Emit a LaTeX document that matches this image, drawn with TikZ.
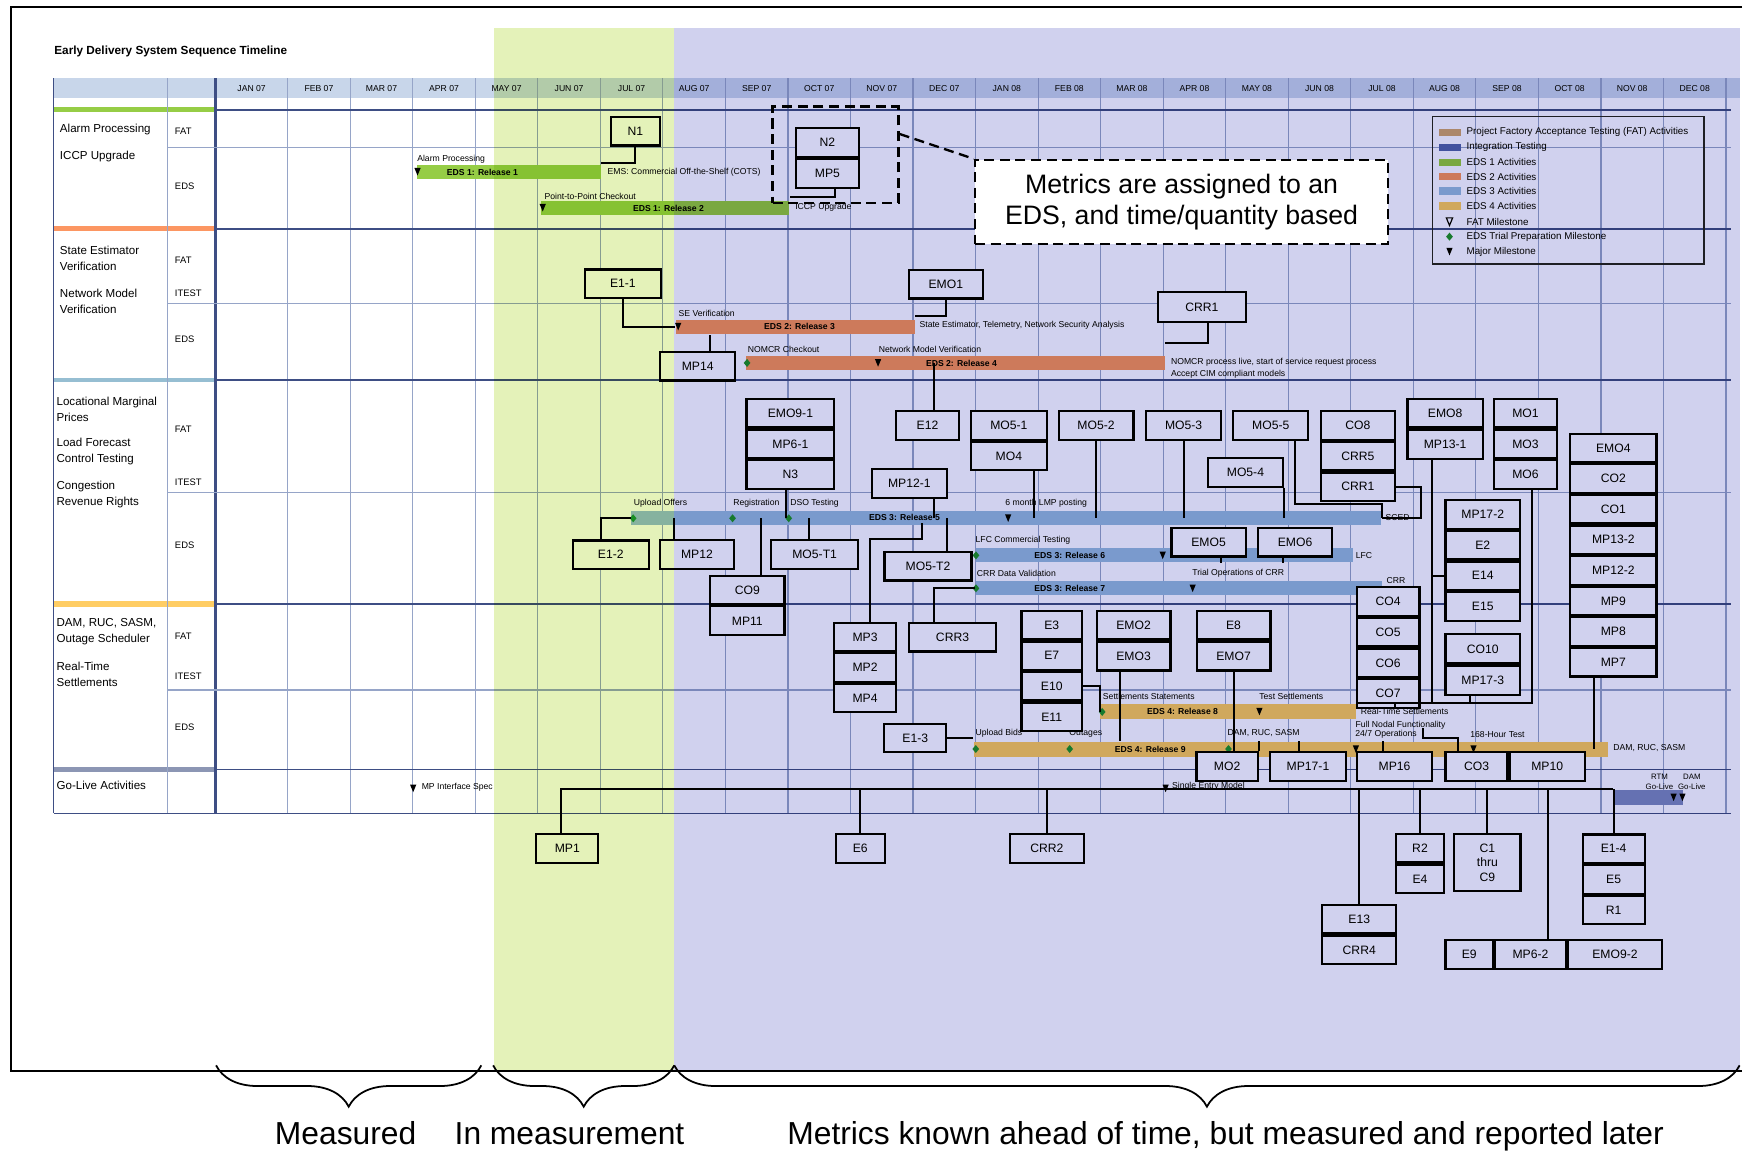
\documentclass[tikz,border=0pt]{standalone}
\usepackage{fontspec}
\setmainfont{Liberation Sans}
\usetikzlibrary{positioning,decorations.pathreplacing}

\definecolor{edsone}{RGB}{150,205,70}
\definecolor{edstwo}{RGB}{252,150,98}
\definecolor{edsthree}{RGB}{150,188,220}
\definecolor{edsfour}{RGB}{255,205,100}
\definecolor{integ}{RGB}{80,100,170}
\definecolor{fattan}{RGB}{210,165,115}
\definecolor{trialgreen}{RGB}{30,150,50}
\definecolor{gridthin}{RGB}{150,165,200}
\definecolor{griddark}{RGB}{62,78,132}
\definecolor{headband}{RGB}{200,214,234}
\definecolor{secblue}{RGB}{150,190,210}
\definecolor{secgray}{RGB}{140,150,180}
\definecolor{hatchgreen}{RGB}{228,242,185}
\definecolor{hatchblue}{RGB}{208,209,238}

\newcommand{\edsTitleFont}{\fontsize{3}{3.6}\selectfont\bfseries}
\newcommand{\edsMonthFont}{\fontsize{2.2}{2.6}\selectfont}
\newcommand{\edsRowFont}{\fontsize{2.95}{4.1}\selectfont}
\newcommand{\edsSubFont}{\fontsize{2.4}{2.8}\selectfont}
\newcommand{\edsNoteFont}{\fontsize{2.2}{2.6}\selectfont}
\newcommand{\edsLegFont}{\fontsize{2.5}{3}\selectfont}
\newcommand{\edsBoxFont}{\fontsize{3.1}{3.75}\selectfont}
\newcommand{\edsCallFont}{\fontsize{6.8}{7.97}\selectfont}
\newcommand{\edsBigFont}{\fontsize{8.1}{9.5}\selectfont}

\begin{document}
\begin{tikzpicture}[x=0.1mm,y=-0.1mm,
  metric/.style={draw,line width=.55pt,fill=white,inner sep=0pt,minimum height=2.55mm,font=\edsBoxFont},
  bar/.style={inner sep=0pt,minimum height=1.25mm,anchor=west},
  barnote/.style={inner sep=0pt,anchor=west,font=\edsNoteFont},
  barname/.style={inner sep=0pt,font=\edsNoteFont\bfseries},
  link/.style={line width=.5pt},
  rowname/.style={inner sep=0pt,anchor=west,align=left,font=\edsRowFont},
  subrow/.style={inner sep=0pt,anchor=west,font=\edsSubFont},
  gridlite/.style={draw=gridthin,line width=.3pt},
  griddeep/.style={draw=griddark,line width=.45pt},
  dashbox/.style={draw,dash pattern=on .9mm off .5mm,line width=.6pt,inner sep=0pt},
  majmile/.pic={\fill (-2.8,-3.4) -- (2.8,-3.4) -- (0,3.4) -- cycle;},
  trialmile/.pic={\fill[trialgreen] (0,-3.6) -- (3,0) -- (0,3.6) -- (-3,0) -- cycle;},
  fatmile/.pic={\draw[line width=.3pt] (-2.8,-3.4) -- (2.8,-3.4) -- (0,3.4) -- cycle;}]
\useasboundingbox (0,0) rectangle (1568,1031);
\fill[white] (0,0) rectangle (1568,1031);

% frame
\draw[line width=.5pt] (1560,6) -- (10,6) -- (10,959) -- (1560,959);
\node[inner sep=0pt,anchor=west,font=\edsTitleFont] (title) at (48,46.3) {Early Delivery System Sequence Timeline};

% table
\fill[headband] (48,70) rectangle (1558,88);
\fill[edsone] (48,95.5) rectangle (193,100);
\fill[edstwo] (48,202) rectangle (193,207);
\fill[secblue] (48,338.5) rectangle (193,342.5);
\fill[edsfour] (48,538) rectangle (193,543.3);
\fill[secgray] (48,686.6) rectangle (193,691);
\foreach \i in {0,...,23}
  \draw[gridlite] (257.6+56*\i,70) -- (257.6+56*\i,728.4);
\draw[gridlite] (150,70) -- (150,728.4);
\draw[griddeep] (48,70) -- (48,728.4);
\draw[griddeep,line width=.7pt] (193,70) -- (193,728.4);
\foreach \yy in {98.5,205,340.5,541,689}
  \draw[griddeep] (193,\yy) -- (1550,\yy);
\foreach \yy in {132,272,441.2,618}
  \draw[gridlite,line width=.35pt] (150,\yy) -- (1550,\yy);
\draw[griddeep] (48,728.4) -- (1550,728.4);

\node[inner sep=0pt,font=\edsMonthFont] (mjan) at (225.3,79) {JAN 07};
\foreach \m [count=\i from 0] in {FEB 07,MAR 07,APR 07,MAY 07,JUN 07,JUL 07,AUG 07,SEP 07,OCT 07,NOV 07,DEC 07,JAN 08,FEB 08,MAR 08,APR 08,MAY 08,JUN 08,JUL 08,AUG 08,SEP 08,OCT 08,NOV 08,DEC 08}
  \node[inner sep=0pt,font=\edsMonthFont] (mon\i) at (285.6+56*\i,79) {\m};

\node[rowname] (alarm) at (53,116.4) {Alarm Processing};
\node[rowname] (iccp) at (53,140.3) {ICCP Upgrade};
\node[rowname] (sev) at (53,231.4) {State Estimator\\Verification};
\node[rowname] (nmv) at (53,269.9) {Network Model\\Verification};
\node[rowname] (lmp) at (50,366.4) {Locational Marginal\\Prices};
\node[rowname] (lfc) at (50,404.5) {Load Forecast\\Control Testing};
\node[rowname] (crr) at (50,442.9) {Congestion\\Revenue Rights};
\node[rowname] (dam) at (50,565.8) {DAM, RUC, SASM,\\Outage Scheduler};
\node[rowname] (rts) at (50,603.7) {Real-Time\\Settlements};
\node[rowname] (golv) at (50,703.6) {Go-Live Activities};
\foreach \yy/\lbl [count=\i] in {117.3/FAT,167/EDS,232.8/FAT,262.7/ITEST,303.9/EDS,384/FAT,432/ITEST,488/EDS,569.5/FAT,606/ITEST,651.6/EDS}
  \node[subrow] (sub\i) at (156,\yy) {\lbl};

% releases
\node[bar,fill=edsone,minimum width=16.49mm] (rel1) at (372.3,154.2) {};
\node[bar,fill=edsone,minimum width=22.24mm] (rel2) at (483.8,186.2) {};
\node[bar,fill=edstwo,minimum width=21.36mm] (rel3) at (604.7,292.6) {};
\node[bar,fill=edstwo,minimum width=37.46mm] (rel4) at (667.5,325) {};
\node[bar,fill=edsthree,minimum width=67.13mm] (rel5) at (564.7,463.7) {};
\node[bar,fill=edsthree,minimum width=33.8mm] (rel6) at (873,497.3) {};
\node[bar,fill=edsthree,minimum width=36.43mm] (rel7) at (873,526.8) {};
\node[bar,fill=edsfour,minimum width=22.87mm,minimum height=1.37mm] (rel8) at (984.6,637.2) {};
\node[bar,fill=edsfour,minimum width=56.81mm,minimum height=1.35mm] (rel9) at (871.5,670.8) {};
\node[bar,fill=integ!75,minimum width=6.26mm,minimum height=1.33mm] (golive) at (1444,714) {};

\node[barname] (r1name) at (432,154.2) {EDS 1: Release 1};
\node[barname] (r2name) at (598.6,186.2) {EDS 1: Release 2};
\node[barname] (r3name) at (716,292.6) {EDS 2: Release 3};
\node[barname] (r4name) at (861,325) {EDS 2: Release 4};
\node[barname] (r5name) at (810,463.7) {EDS 3: Release 5};
\node[barname] (r6name) at (958,497.3) {EDS 3: Release 6};
\node[barname] (r7name) at (958,526.8) {EDS 3: Release 7};
\node[barname] (r8name) at (1059,637.2) {EDS 4: Release 8};
\node[barname] (r9name) at (1030,670.8) {EDS 4: Release 9};

\node[barnote] (nt1) at (373,143) {Alarm Processing};
\node[barnote] (nt2) at (543.5,154) {EMS: Commercial Off-the-Shelf (COTS)};
\node[barnote] (nt3) at (487,175.5) {Point-to-Point Checkout};
\node[barnote] (nt4) at (711.5,185.5) {ICCP Upgrade};
\node[barnote] (nt5) at (607,280.5) {SE Verification};
\node[barnote] (nt6) at (822.8,291.5) {State Estimator, Telemetry, Network Security Analysis};
\node[barnote] (nt7) at (669,313) {NOMCR Checkout};
\node[barnote] (nt8) at (786.3,313) {Network Model Verification};
\node[barnote] (nt9) at (1048,324) {NOMCR process live, start of service request process};
\node[barnote] (nt10) at (1048,335) {Accept CIM compliant models};
\node[barnote] (nt11) at (567,450.5) {Upload Offers};
\node[barnote] (nt12) at (656,450.5) {Registration};
\node[barnote] (nt13) at (707,450.5) {DSO Testing};
\node[barnote] (nt14) at (899.6,450.5) {6 month LMP posting};
\node[barnote] (nt15) at (1240,463.5) {SCED};
\node[barnote] (nt16) at (873,483.5) {LFC Commercial Testing};
\node[barnote] (nt17) at (1213.5,497) {LFC};
\node[barnote] (nt18) at (874,513.5) {CRR Data Validation};
\node[barnote] (nt19) at (1067,513.5) {Trial Operations of CRR};
\node[barnote] (nt20) at (1241,520) {CRR};
\node[barnote] (nt21) at (987,624) {Settlements Statements};
\node[barnote] (nt22) at (1127,624) {Test Settlements};
\node[barnote] (nt23) at (1218,637) {Real-Time Settlements};
\node[barnote] (nt24) at (873,656.7) {Upload Bids};
\node[barnote] (nt25) at (957,656.7) {Outages};
\node[barnote] (nt26) at (1098.7,656.7) {DAM, RUC, SASM};
\node[barnote] (nt27) at (1213.3,649) {Full Nodal Functionality};
\node[barnote] (nt28) at (1213,657.5) {24/7 Operations};
\node[barnote] (nt29) at (1316,658) {168-Hour Test};
\node[barnote] (nt30) at (1444,669.5) {DAM, RUC, SASM};
\node[barnote] (nt31) at (377,705) {MP Interface Spec};
\node[barnote] (nt32) at (1049,704) {Single Entry Model};
\node[inner sep=0pt,align=center,font=\fontsize{2}{2.6}\selectfont] (rtm) at (1486,700) {RTM\\Go-Live};
\node[inner sep=0pt,align=center,font=\fontsize{2}{2.6}\selectfont] (damgl) at (1515,700) {DAM\\Go-Live};

% milestones
\pic at (373.9,153.8) {majmile};
\pic at (486,186) {majmile};
\pic at (607.3,292.5) {majmile};
\pic at (786.3,325) {majmile};
\pic at (902.8,464) {majmile};
\pic at (1041.2,497.3) {majmile};
\pic at (1068,526.8) {majmile};
\pic at (1127.8,637.2) {majmile};
\pic at (1214.2,670.8) {majmile};
\pic at (1319.5,670.8) {majmile};
\pic at (370,706) {majmile};
\pic at (1043.8,706) {majmile};
\pic at (1498.7,714) {majmile};
\pic at (1506.6,714) {majmile};
\foreach \xx/\yy in {669/325,567/464.1,656/464.1,706.3/464.1,874/497.3,874/526.8,987/637.5,873.8/670.7,957.9/670.7,1100.1/670.7}
  \pic at (\xx,\yy) {trialmile};

% legend
\node[draw=black!85,line width=.4pt,minimum width=24.31mm,minimum height=13.2mm,inner sep=0pt] (legend) at (1404.4,170.4) {};
\foreach \yy/\cc in {118.5/fattan,131.9/integ,145.3/edsone,158.2/edstwo,171/edsthree,184.4/edsfour}
  \fill[\cc] (1288.4,\yy-3.3) rectangle (1308,\yy+3.3);
\pic at (1298,198.5) {fatmile};
\pic at (1298,211.9) {trialmile};
\pic at (1298,225.3) {majmile};
\foreach \yy/\lbl [count=\i] in {118.5/Project Factory Acceptance Testing (FAT) Activities,131.9/Integration Testing,145.3/EDS 1 Activities,158.2/EDS 2 Activities,171/EDS 3 Activities,184.4/EDS 4 Activities,198.5/FAT Milestone,211.9/EDS Trial Preparation Milestone,225.3/Major Milestone}
  \node[barnote,font=\edsLegFont] (leg\i) at (1312.6,\yy) {\lbl};

% metric boxes
\node[metric,minimum width=4.4mm] (n1) at (569,117.5) {N1};
\node[metric,minimum width=5.7mm,minimum height=2.6mm] (n2) at (741,127.5) {N2};
\node[metric,minimum width=5.7mm,minimum height=2.6mm,below=0pt of n2] (mp5) {MP5};
\node[metric,minimum width=6.75mm] (e1x1) at (557.8,254) {E1-1};
\node[metric,minimum width=6.6mm] (emo1) at (847,254.5) {EMO1};
\node[metric,minimum width=7.86mm,minimum height=2.68mm] (crr1a) at (1076.3,275.2) {CRR1};
\node[metric,minimum width=6.7mm] (mp14) at (624.8,328) {MP14};
\node[metric,minimum width=5.6mm] (e12) at (830.6,381) {E12};
\node[metric,minimum width=7.87mm] (emo9x1) at (707.8,370) {EMO9-1};
\node[metric,minimum width=7.87mm,below=0pt of emo9x1] (mp6x1) {MP6-1};
\node[metric,minimum width=7.87mm,below=0pt of mp6x1] (n3) {N3};
\node[metric,minimum width=6.8mm] (mo5x1) at (903.4,381) {MO5-1};
\node[metric,minimum width=6.8mm,below=0pt of mo5x1] (mo4) {MO4};
\node[metric,minimum width=6.7mm] (mo5x2) at (981.5,381) {MO5-2};
\node[metric,minimum width=6.7mm] (mo5x3) at (1059.9,381) {MO5-3};
\node[metric,minimum width=6.7mm] (mo5x5) at (1138,381) {MO5-5};
\node[metric,minimum width=6.6mm] (co8) at (1216,381) {CO8};
\node[metric,minimum width=6.6mm,below=0pt of co8] (crr5) {CRR5};
\node[metric,minimum width=6.6mm,below=0pt of crr5] (crr1b) {CRR1};
\node[metric,minimum width=6.74mm] (emo8) at (1294.1,370) {EMO8};
\node[metric,minimum width=6.74mm,minimum height=2.65mm,below=0pt of emo8] (mp13x1) {MP13-1};
\node[metric,minimum width=5.6mm] (mo1) at (1366,370) {MO1};
\node[metric,minimum width=5.6mm,below=0pt of mo1] (mo3) {MO3};
\node[metric,minimum width=5.6mm,below=0pt of mo3] (mo6) {MO6};
\node[metric,minimum width=7.74mm] (emo4) at (1444.7,401) {EMO4};
\node[metric,minimum width=7.74mm,below=0pt of emo4] (co2) {CO2};
\node[metric,minimum width=7.74mm,below=0pt of co2] (co1) {CO1};
\node[metric,minimum width=7.74mm,below=0pt of co1] (mp13x2) {MP13-2};
\node[metric,minimum width=7.74mm,below=0pt of mp13x2] (mp12x2) {MP12-2};
\node[metric,minimum width=7.74mm,below=0pt of mp12x2] (mp9) {MP9};
\node[metric,minimum width=7.74mm,below=0pt of mp9] (mp8) {MP8};
\node[metric,minimum width=7.74mm,below=0pt of mp8] (mp7) {MP7};
\node[metric,minimum width=6.74mm] (mo5x4) at (1115.3,423) {MO5-4};
\node[metric,minimum width=6.74mm] (mp12x1) at (814.3,433) {MP12-1};
\node[metric,minimum width=6.68mm] (mp17x2) at (1327.8,460.7) {MP17-2};
\node[metric,minimum width=6.68mm,below=0pt of mp17x2] (e2) {E2};
\node[metric,minimum width=6.68mm,below=0pt of e2] (e14) {E14};
\node[metric,minimum width=6.68mm,below=0pt of e14] (e15) {E15};
\node[metric,minimum width=6.76mm] (e1x2) at (547,496.7) {E1-2};
\node[metric,minimum width=6.6mm] (mp12) at (624.1,496.5) {MP12};
\node[metric,minimum width=7.8mm] (mo5t1) at (729.5,496.5) {MO5-T1};
\node[metric,minimum width=6.66mm] (emo5) at (1082.3,485.5) {EMO5};
\node[metric,minimum width=6.68mm] (emo6) at (1159.7,485.5) {EMO6};
\node[metric,minimum width=7.8mm] (mo5t2) at (831,507) {MO5-T2};
\node[metric,minimum width=6.67mm] (co9) at (669.2,528.3) {CO9};
\node[metric,minimum width=6.67mm,minimum height=2.6mm,below=0pt of co9] (mp11) {MP11};
\node[metric,minimum width=5.6mm] (co4) at (1243.1,538.7) {CO4};
\node[metric,minimum width=5.6mm,below=0pt of co4] (co5) {CO5};
\node[metric,minimum width=5.6mm,below=0pt of co5] (co6) {CO6};
\node[metric,minimum width=5.6mm,below=0pt of co6] (co7) {CO7};
\node[metric,minimum width=6.68mm,minimum height=2.6mm] (co10) at (1327.8,581) {CO10};
\node[metric,minimum width=6.68mm,minimum height=2.65mm,below=0pt of co10] (mp17x3) {MP17-3};
\node[metric,minimum width=5.6mm] (mp3) at (774.6,570.3) {MP3};
\node[metric,minimum width=5.6mm,below=0pt of mp3] (mp2) {MP2};
\node[metric,minimum width=5.6mm,below=0pt of mp2] (mp4) {MP4};
\node[metric,minimum width=7.8mm] (crr3) at (853,570.6) {CRR3};
\node[metric,minimum width=5.42mm] (e3) at (941.8,559.7) {E3};
\node[metric,minimum width=5.42mm,below=0pt of e3] (e7) {E7};
\node[metric,minimum width=5.42mm,below=0pt of e7] (e10) {E10};
\node[metric,minimum width=5.42mm,below=0pt of e10] (e11) {E11};
\node[metric,minimum width=6.62mm] (emo2) at (1015.1,559.7) {EMO2};
\node[metric,minimum width=6.62mm,minimum height=2.6mm,below=0pt of emo2] (emo3) {EMO3};
\node[metric,minimum width=6.61mm] (e8) at (1104.6,559.7) {E8};
\node[metric,minimum width=6.61mm,minimum height=2.6mm,below=0pt of e8] (emo7) {EMO7};
\node[metric,minimum width=5.53mm] (e1x3) at (819.6,661) {E1-3};
\node[metric,minimum width=5.48mm] (mo2) at (1098.9,686.5) {MO2};
\node[metric,minimum width=6.74mm] (mp17x1) at (1171.3,686.5) {MP17-1};
\node[metric,minimum width=6.74mm] (mp16) at (1248.8,686.5) {MP16};
\node[metric,minimum width=5.56mm] (co3) at (1322.2,686.5) {CO3};
\node[metric,minimum width=6.72mm,right=0pt of co3] (mp10) {MP10};
\node[metric,minimum width=5.57mm,minimum height=2.63mm] (mp1) at (508,760) {MP1};
\node[metric,minimum width=4.4mm,minimum height=2.63mm] (e6) at (770.3,760) {E6};
\node[metric,minimum width=6.65mm,minimum height=2.63mm] (crr2) at (937.5,760) {CRR2};
\node[metric,minimum width=4.25mm] (r2) at (1271.6,759.6) {R2};
\node[metric,minimum width=4.25mm,below=0pt of r2] (e4) {E4};
\node[metric,minimum width=5.94mm,minimum height=5.12mm,align=center] (c1) at (1331.9,772.4) {C1\\thru\\C9};
\node[metric,minimum width=5.56mm] (e1x4) at (1445,760) {E1-4};
\node[metric,minimum width=5.56mm,below=0pt of e1x4] (e5) {E5};
\node[metric,minimum width=5.56mm,below=0pt of e5] (r1) {R1};
\node[metric,minimum width=6.64mm] (e13) at (1217.2,823.1) {E13};
\node[metric,minimum width=6.64mm,below=0pt of e13] (crr4) {CRR4};
\node[metric,minimum width=4.26mm,minimum height=2.6mm] (e9) at (1315.7,854.7) {E9};
\node[metric,minimum width=6.32mm,minimum height=2.6mm,right=0pt of e9] (mp6x2) {MP6-2};
\node[metric,minimum width=8.42mm,minimum height=2.6mm,right=0pt of mp6x2] (emo9x2) {EMO9-2};

% connectors
\draw[link] (n1.south) |- ([yshift=.15mm]rel1.north east);
\draw[link] ([xshift=.66mm]mp5.south) |- ([yshift=.3mm]rel2.north east);
\draw[link] (e1x1.south) |- (rel3.west);
\draw[link] (emo1.south) |- ([yshift=.3mm]rel3.north east);
\draw[link] ([xshift=.57mm]crr1a.south) |- ([yshift=1.05mm]rel4.north east);
\draw[link] ([xshift=1.07mm]mp14.north) coordinate (p) -- (p |- rel3.south);
\draw[link] ([xshift=.59mm]e12.north) coordinate (p) -- (p |- rel4.center);
\draw[link] ([xshift=-.38mm]n3.south) coordinate (p) -- (p |- rel5.center);
\draw[link] ([xshift=2.26mm]mo4.south) coordinate (p) -- (p |- rel5.center);
\draw[link] (mo5x2.south) -- (mo5x2.south |- rel5.center);
\draw[link] (mo5x3.south) -- (mo5x3.south |- rel5.center);
\draw[link] (mo5x4.south east) -- (mo5x4.south east |- rel5.center);
\draw[link] ([xshift=2.17mm]mo5x5.south) |- ([yshift=1.2mm]rel5.east) -- (rel5.east);
\draw[link] (crr1b.east) -- ++(22.7,0) |- (rel5.east);
\draw[link] ([xshift=2.22mm]mp12x1.south) coordinate (p) -- (p |- rel5.center);
\draw[link] ([xshift=1.7mm]mo5t2.north) coordinate (p) -- (p |- rel5.center);
\draw[link] ([xshift=.48mm]mp3.north) |- ++(46.6,-74.1) -- ++(0,-14);
\draw[link] ([xshift=1.2mm]co9.north) coordinate (p) -- (p |- rel5.center);
\draw[link] ([xshift=-2.06mm]mp12.north) coordinate (p) -- (p |- rel5.center);
\draw[link] ([xshift=-.49mm]mo5t1.north) coordinate (p) -- (p |- rel5.center);
\draw[link] ([xshift=-.9mm]e1x2.north) |- (rel5.west);
\draw[link] ([xshift=1.1mm]emo5.south) coordinate (p) -- (p |- rel6.south);
\draw[link] ([xshift=-1.1mm]emo6.south) coordinate (p) -- (p |- rel6.south);
\draw[link] ([xshift=-1.63mm]crr3.north) |- (rel7.west);
\draw[link] (e10.east) -| (rel8.west);
\draw[link] ([xshift=-1.2mm]emo3.south) coordinate (p) -- (p |- rel9.north);
\draw[link] (e1x3.east) -- (e1x3.east -| rel9.west);
\draw[link] (emo7.south) -- (emo7.south |- mo2.north);
\draw[link] (mo2.north east) -- (mo2.north east |- rel9.north);
\draw[link] ([xshift=-.79mm]mp17x1.north) coordinate (p) -- (p |- rel9.north);
\draw[link] ([xshift=-1.06mm]mp16.north) coordinate (p) -- (p |- rel9.north);
\draw[link] ([xshift=-1.62mm]co3.north) -- ++(0,-12) -- ++(-32,0) -- ++(0,-9);
\draw[link] ([xshift=-1.75mm]mp7.south) coordinate (p) -- (p |- rel9.east);
\draw[link] ([xshift=-1.16mm]mp13x1.south) coordinate (rtv) -- (rtv |- rel8.north east);
\draw[link] (e14.west) -- (e14.west -| rtv);
\draw[link] ([xshift=.56mm]mo6.south) |- (rel8.north east);
\draw[link] ([xshift=.59mm]co7.south) coordinate (p) -- (p |- rel8.north east);
\draw[link] ([xshift=-1.14mm]mp17x3.south) coordinate (p) -- (p |- rel8.north east);
% go-live bus
\draw[link] ([xshift=-.55mm]mp1.north) |- (golive.north west);
\foreach \b in {e6,crr2,e13,r2,c1,e1x4}
  \draw[link] (\b.north) -- (\b.north |- golive.north west);
\draw[link] ([xshift=1.55mm]mp6x2.north) coordinate (p) -- (p |- golive.north west);

\node[dashbox,minimum width=11.27mm,minimum height=8.6mm] (mpgroup) at (748.2,138.5) {};

% measurement windows
\begin{scope}[blend mode=multiply]
\fill[hatchgreen] (442,25.4) rectangle (604,958);
\fill[hatchblue] (604,25.4) rectangle (1558,958);
\end{scope}

\node[dashbox,fill=white,minimum width=37mm,minimum height=7.52mm,align=center,font=\edsCallFont] (callout) at (1058.1,180.9) {Metrics are assigned to an\\EDS, and time/quantity based};
\draw[dash pattern=on .9mm off .5mm,line width=.6pt] ([yshift=-2.55mm]mpgroup.north east) -- (callout.north west);

% braces
\coordinate (b1l) at (193.5,954);
\coordinate (b1r) at (431,954);
\coordinate (b2l) at (441.6,954);
\coordinate (b2r) at (603.8,954);
\coordinate (b3l) at (603.8,954);
\coordinate (b3r) at (1557.8,954);
\draw[line width=.45pt,decorate,decoration={brace,mirror,amplitude=3.7mm}] (b1l) -- (b1r);
\draw[line width=.45pt,decorate,decoration={brace,mirror,amplitude=3.7mm}] (b2l) -- (b2r);
\draw[line width=.45pt,decorate,decoration={brace,mirror,amplitude=3.7mm}] (b3l) -- (b3r);
\node[inner sep=0pt,anchor=base,font=\edsBigFont] (measured) at (309.5,1025) {Measured};
\node[inner sep=0pt,anchor=base,font=\edsBigFont] (inmeas) at (510,1025) {In measurement};
\node[inner sep=0pt,anchor=base,font=\edsBigFont] (later) at (1097.5,1025) {Metrics known ahead of time, but measured and reported later};
\end{tikzpicture}
\end{document}
